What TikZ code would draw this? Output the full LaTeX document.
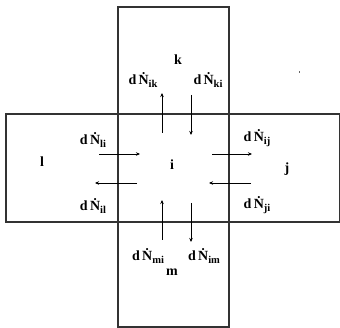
\documentclass[tikz,border=0pt]{standalone}
\usepackage{fontspec}
\setmainfont{Liberation Serif}
\usetikzlibrary{arrows.meta,positioning}

\newcommand{\flux}[1]{d\,Ṅ\raisebox{-0.4ex}{\fontsize{10.5}{11}\selectfont #1}}

\begin{document}
\begin{tikzpicture}[x=1pt,y=-1pt,
    cell/.style={draw=black!80, line width=1.1pt},
    region/.style={font=\fontsize{14}{16}\selectfont\bfseries},
    lab/.style={font=\fontsize{14}{16}\selectfont\bfseries, inner sep=0pt},
    flow/.style={-{Stealth[length=4pt,width=3.5pt]}, line width=0.8pt}
]
    \useasboundingbox (0,0) rectangle (340,328);
    \draw[cell] (118,7) rectangle (229,327);
    \draw[cell] (6,114) rectangle (339.5,222);

    \node[region] (i) at (172,165) {i};
    \node[region] (k) at (178,60) {k};
    \node[region] (l) at (42,162) {l};
    \node[region] (j) at (287,169) {j};
    \node[region] (m) at (172,272) {m};

    \node[lab] (nik) at (143,80) {\flux{ik}};
    \node[lab] (nki) at (208,80) {\flux{ki}};
    \node[lab] (nli) at (93,140) {\flux{li}};
    \node[lab] (nil) at (93,206) {\flux{il}};
    \node[lab] (nij) at (257,138) {\flux{ij}};
    \node[lab] (nji) at (257,205) {\flux{ji}};
    \node[lab] (nmi) at (148,256) {\flux{mi}};
    \node[lab] (nim) at (204,256) {\flux{im}};

    \coordinate (ik0) at (162,133); \coordinate (ik1) at (162,93);
    \coordinate (ki0) at (191,95);  \coordinate (ki1) at (191,135);
    \coordinate (li0) at (99,154);  \coordinate (li1) at (140,154);
    \coordinate (il0) at (137,183); \coordinate (il1) at (95,183);
    \coordinate (ij0) at (212,154); \coordinate (ij1) at (252,154);
    \coordinate (ji0) at (251,183); \coordinate (ji1) at (209,183);
    \coordinate (mi0) at (162,240); \coordinate (mi1) at (162,200);
    \coordinate (im0) at (191,203); \coordinate (im1) at (191,242);

    \draw[flow] (ik0) -- (ik1);
    \draw[flow] (ki0) -- (ki1);
    \draw[flow] (li0) -- (li1);
    \draw[flow] (il0) -- (il1);
    \draw[flow] (ij0) -- (ij1);
    \draw[flow] (ji0) -- (ji1);
    \draw[flow] (mi0) -- (mi1);
    \draw[flow] (im0) -- (im1);

    \fill[black!60] (298.5,71) rectangle (300,73);
\end{tikzpicture}
\end{document}
